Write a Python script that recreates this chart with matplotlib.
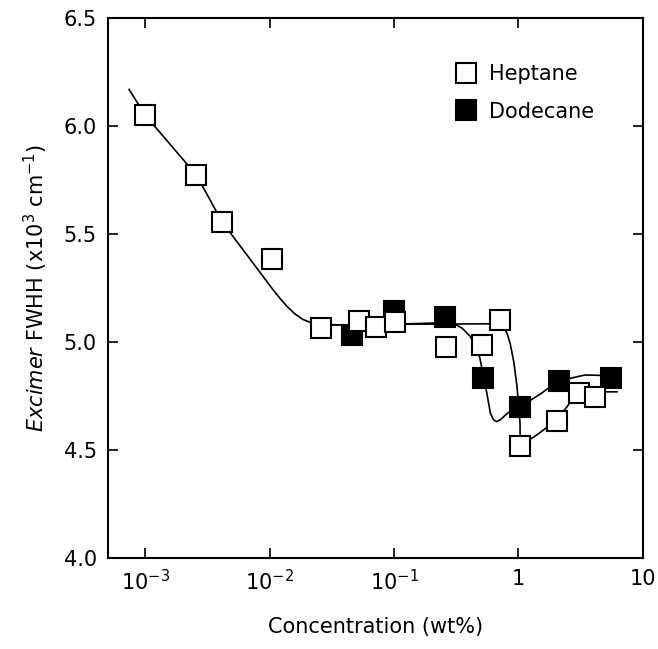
import matplotlib
matplotlib.use("Agg")
import matplotlib.pyplot as plt
from matplotlib.lines import Line2D
from matplotlib.ticker import FixedLocator, FixedFormatter, NullLocator

# datos
heptane_x = [0.00100, 0.00257, 0.00415, 0.0104, 0.026, 0.052, 0.0716, 0.102,
             0.26, 0.51, 0.714, 1.03, 2.04, 3.04, 4.09]
heptane_y = [6.05, 5.774, 5.556, 5.387, 5.067, 5.10, 5.072, 5.095,
             4.979, 4.987, 5.103, 4.518, 4.636, 4.763, 4.747]

dodecane_x = [0.046, 0.099, 0.258, 0.519, 1.03, 2.10, 5.56]
dodecane_y = [5.033, 5.142, 5.117, 4.834, 4.698, 4.821, 4.836]

# curvas de ajuste (trazadas a mano sobre la figura)
hep_fit_x = [7.4e-4, 1.0e-3, 2.57e-3, 4.15e-3, 0.0104, 0.0122, 0.0138, 0.0160,
             0.0185, 0.0215, 0.026, 0.035, 0.06, 0.13, 0.3, 0.6, 0.70, 0.76,
             0.81, 0.86, 0.916, 0.97, 1.0, 1.03, 1.03, 1.4, 2.04, 2.6, 3.04,
             4.09, 6.2]
hep_fit_y = [6.17, 6.05, 5.774, 5.556, 5.25, 5.20, 5.165, 5.13,
             5.105, 5.09, 5.082, 5.08, 5.08, 5.083, 5.084, 5.085, 5.082, 5.07,
             5.04, 4.99, 4.91, 4.80, 4.72, 4.62, 4.52, 4.57, 4.64, 4.72, 4.76,
             4.77, 4.77]

dod_fit_x = [0.03, 0.06, 0.13, 0.26, 0.31, 0.352, 0.41, 0.437, 0.488, 0.519,
             0.557, 0.594, 0.63, 0.671, 0.72, 0.783, 0.9, 1.03, 1.5, 2.1,
             3.44, 5.56, 6.3]
dod_fit_y = [5.08, 5.08, 5.085, 5.09, 5.082, 5.065, 5.026, 4.995, 4.93, 4.85,
             4.763, 4.672, 4.640, 4.632, 4.642, 4.662, 4.69, 4.70, 4.76, 4.821,
             4.848, 4.845, 4.848]

xticks = [1e-3, 1e-2, 1e-1, 1, 10]
xticklabels = [r"$10^{-3}$", r"$10^{-2}$", r"$10^{-1}$", "1", "10"]
yticks = [4.0, 4.5, 5.0, 5.5, 6.0, 6.5]

plt.rcParams['font.family'] = ['DejaVu Sans']
plt.rcParams['mathtext.fontset'] = 'dejavusans'

fig = plt.figure(figsize=(6.58, 6.49), dpi=100)
ax = fig.add_axes([0.164, 0.140, 0.813, 0.832])

ax.plot(hep_fit_x, hep_fit_y, color='black', lw=1.2, zorder=1)
ax.plot(dod_fit_x, dod_fit_y, color='black', lw=1.2, zorder=1)
ax.plot(dodecane_x, dodecane_y, 's', ms=15, mfc='black', mec='black', mew=1.5,
        ls='none', zorder=2)
ax.plot(heptane_x, heptane_y, 's', ms=15, mfc='white', mec='black', mew=1.5,
        ls='none', zorder=3)

ax.set_xscale('log')
ax.set_xlim(5.0e-4, 10)
ax.set_ylim(4.0, 6.5)
ax.xaxis.set_major_locator(FixedLocator(xticks))
ax.xaxis.set_major_formatter(FixedFormatter(xticklabels))
ax.xaxis.set_minor_locator(NullLocator())
ax.set_yticks(yticks)
ax.set_yticklabels([f"{v:.1f}" for v in yticks])

ax.tick_params(which='both', direction='in', top=True, right=True,
               length=7, width=1.2, labelsize=15, pad=8)
for s in ax.spines.values():
    s.set_linewidth(1.5)

ax.set_xlabel("Concentration (wt%)", fontsize=15, labelpad=16)
ax.set_ylabel(r"$\mathit{Excimer}$ FWHH (x10$^{3}$ cm$^{-1}$)", fontsize=15, labelpad=10)

handles = [
    Line2D([], [], marker='s', ms=15, mfc='white', mec='black', mew=1.5, ls='none'),
    Line2D([], [], marker='s', ms=15, mfc='black', mec='black', mew=1.5, ls='none'),
]
ax.legend(handles, ["Heptane", "Dodecane"], loc='upper left',
          bbox_to_anchor=(0.615, 0.95), frameon=False, fontsize=15,
          handlelength=1.0, handletextpad=0.6, labelspacing=0.85)

fig.savefig("out.png", dpi=100)
